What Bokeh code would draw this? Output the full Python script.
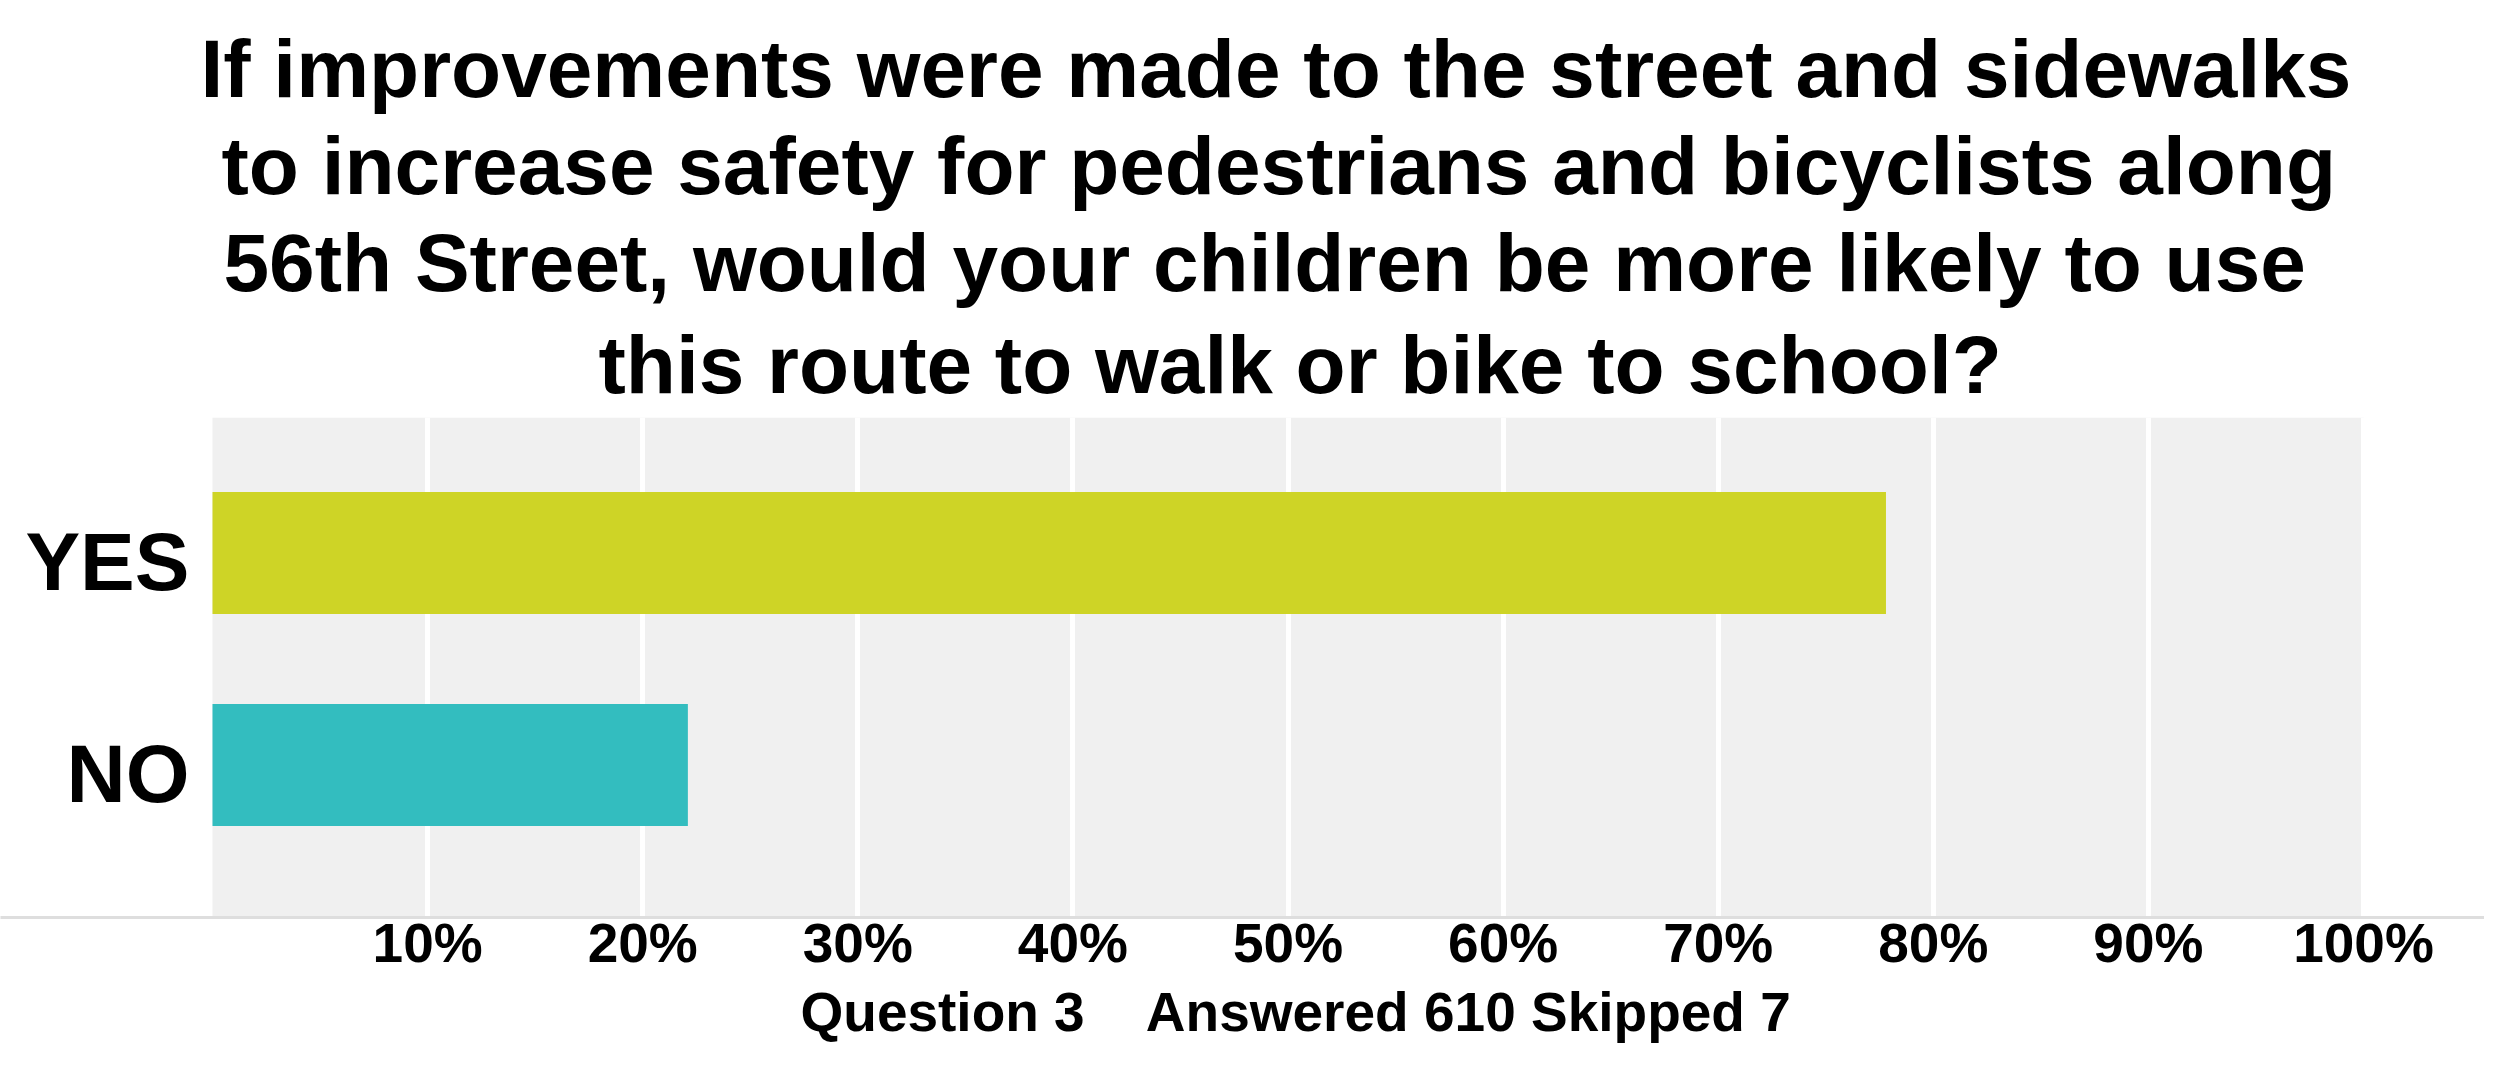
from bokeh.plotting import figure
from bokeh.models import (FactorRange, Range1d, FixedTicker, PrintfTickFormatter,
                          BoxAnnotation, Title, ColumnDataSource)
from bokeh.transform import dodge
from bokeh.embed import file_html
from bokeh.resources import INLINE

# ---- data ----
categories = ["NO", "YES"]
percent = [22.1, 77.8]
bar_colors = ["#33BDBF", "#CED426"]
tick_values = [10, 20, 30, 40, 50, 60, 70, 80, 90, 100]
title_lines = [
    "If improvements were made to the street and sidewalks",
    "to increase safety for pedestrians and bicyclists along",
    "56th Street, would your children be more likely to use",
    "this route to walk or bike to school?",
]
title_offsets = [200, 221, 223, 598]
title_standoffs = [4, 4, 4, 15]
footer_text = "Question 3\u00a0\u00a0\u00a0\u00a0Answered 610 Skipped 7"

FONT = "Liberation Sans"
W, H = 2484, 1068
px_per_unit = (2363 - 212) / 100.0
x_start = -212 / px_per_unit
x_end = x_start + W / px_per_unit

p = figure(
    width=W, height=H,
    x_range=Range1d(x_start, x_end),
    y_range=FactorRange(factors=categories, range_padding=0.179,
                        range_padding_units="absolute"),
    output_backend="svg", toolbar_location=None, title=None,
    min_border_left=0, min_border_right=0,
    min_border_top=417, min_border_bottom=H - 917,
)
p.background_fill_color = "white"
p.border_fill_color = "white"
p.outline_line_color = None

# grey plot background only between 0 and 100 %
p.add_layout(BoxAnnotation(left=0, right=100, fill_color="#f0f0f0", fill_alpha=1.0,
                           line_color=None, level="image"))

src = ColumnDataSource(dict(y=categories, x=percent, c=bar_colors))
p.hbar(y=dodge("y", 0.04, range=p.y_range), left=0, right="x", height=0.575,
       fill_color="c", line_color=None, source=src)

# x axis
ticker = FixedTicker(ticks=tick_values)
p.xaxis.ticker = ticker
p.xaxis.formatter = PrintfTickFormatter(format="%d%%")
p.xaxis.major_label_text_font = FONT
p.xaxis.major_label_text_font_size = "55px"
p.xaxis.major_label_text_font_style = "bold"
p.xaxis.major_label_text_color = "black"
p.xaxis.major_tick_line_color = None
p.xaxis.minor_tick_line_color = None
p.xaxis.major_label_standoff = -12
p.xaxis.axis_line_color = "#dedede"
p.xaxis.axis_line_width = 3

# y axis placed at 0 %
p.yaxis.fixed_location = 0
p.yaxis.major_label_text_font = FONT
p.yaxis.major_label_text_font_size = "82px"
p.yaxis.major_label_text_font_style = "bold"
p.yaxis.major_label_text_color = "black"
p.yaxis.major_tick_line_color = None
p.yaxis.minor_tick_line_color = None
p.yaxis.axis_line_color = None
p.yaxis.major_label_standoff = 17

# grids
p.xgrid.ticker = ticker
p.xgrid.grid_line_color = "white"
p.xgrid.grid_line_width = 5
p.ygrid.visible = False

# title lines (added bottom-up so the first line ends on top)
for line, off, so in reversed(list(zip(title_lines, title_offsets, title_standoffs))):
    p.add_layout(Title(text=line, align="left", offset=off, standoff=so,
                       text_font=FONT, text_font_size="82px",
                       text_font_style="bold", text_color="black"), "above")

p.add_layout(Title(text=footer_text, align="left", offset=800, standoff=4,
                   text_font=FONT, text_font_size="55px",
                   text_font_style="bold", text_color="black"), "below")

open("out.html", "w").write(file_html(p, INLINE))
